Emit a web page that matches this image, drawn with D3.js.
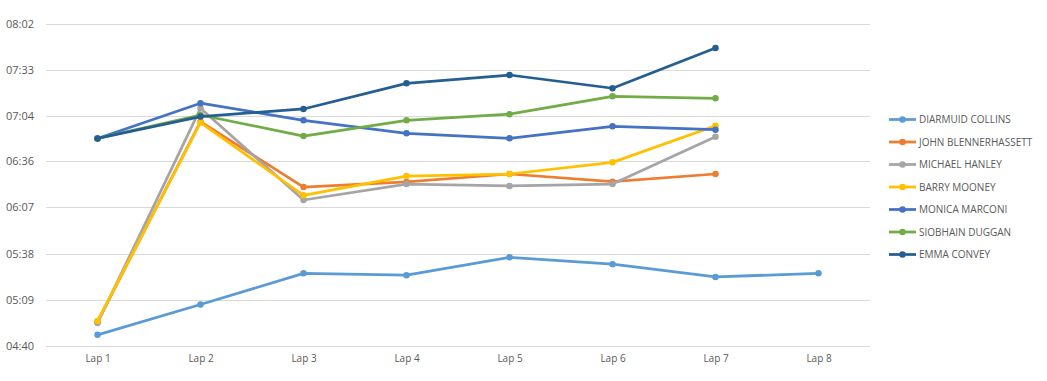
<!DOCTYPE html>
<html>
<head>
<meta charset="utf-8">
<script src="https://cdn.jsdelivr.net/npm/d3@7"></script>
<style>
  html, body { margin: 0; padding: 0; background: #fff; }
  svg { display: block; font-family: "Open Sans", "Liberation Sans", sans-serif; }
</style>
</head>
<body>
<svg id="chart" width="1047" height="381"></svg>
<script>
// Categories (laps)
const laps = ["Lap 1", "Lap 2", "Lap 3", "Lap 4", "Lap 5", "Lap 6", "Lap 7", "Lap 8"];

// Y tick labels (mm:ss)
const yTickLabels = ["04:40", "05:09", "05:38", "06:07", "06:36", "07:04", "07:33", "08:02"];

// Series names
const seriesNames = ["DIARMUID COLLINS", "JOHN BLENNERHASSETT", "MICHAEL HANLEY", "BARRY MOONEY",
                     "MONICA MARCONI", "SIOBHAIN DUGGAN", "EMMA CONVEY"];

// Series values in seconds (null = no value)
const diarmuidCollins     = [287, 306, 325.6, 324.4, 335.6, 331.3, 323.3, 325.6];
const johnBlennerhassett  = [295.1, 420.7, 379.7, 382.9, 387.9, 383.1, 387.9, null];
const michaelHanley       = [294.4, 429.1, 371.6, 381.6, 380.4, 381.6, 411.3, null];
const barryMooney         = [295.7, 420.2, 374.5, 386.6, 387.9, 395.2, 418.2, null];
const monicaMarconi       = [410.2, 432.3, 421.6, 413.4, 410.3, 417.8, 415.7, null];
const siobhainDuggan      = [410.2, 424.9, 411.7, 421.6, 425.4, 436.6, 435.4, null];
const emmaConvey          = [410.2, 423.9, 428.7, 444.8, 450, 441.7, 467, null];

const seriesValues = [diarmuidCollins, johnBlennerhassett, michaelHanley, barryMooney,
                      monicaMarconi, siobhainDuggan, emmaConvey];
const colors = ["#5B9BD5", "#ED7D31", "#A5A5A5", "#FFC000", "#4472C4", "#70AD47", "#255E91"];

function toSec(s) { const p = s.split(":"); return +p[0] * 60 + +p[1]; }

const svg = d3.select("#chart");
const plot = { left: 46, right: 870, top: 24, bottom: 346 };

const x = d3.scalePoint().domain(laps).range([plot.left, plot.right]).padding(0.5);
const yTicks = yTickLabels.map(toSec);
const y = d3.scaleLinear().domain([yTicks[0], yTicks[yTicks.length - 1]]).range([plot.bottom, plot.top]);

// Gridlines
svg.append("g").selectAll("line").data(yTicks).join("line")
  .attr("x1", plot.left).attr("x2", plot.right)
  .attr("y1", d => Math.round(y(d)) + 0.5).attr("y2", d => Math.round(y(d)) + 0.5)
  .attr("stroke", "#D9D9D9").attr("stroke-width", 1);

// Y axis labels
const yAxis = d3.axisLeft(y).tickValues(yTicks).tickFormat((d, i) => yTickLabels[i]).tickSize(0).tickPadding(12);
const yg = svg.append("g").attr("transform", `translate(${plot.left},0)`).call(yAxis);
yg.select(".domain").remove();
yg.selectAll("text").attr("fill", "#595959").style("font-size", "11px")
  .style("font-family", '"Open Sans", "Liberation Sans", sans-serif');

// X axis labels
const xAxis = d3.axisBottom(x).tickSize(0).tickPadding(9);
const xg = svg.append("g").attr("transform", `translate(0,${plot.bottom})`).call(xAxis);
xg.select(".domain").remove();
xg.selectAll("text").attr("fill", "#595959").style("font-size", "10px")
  .style("font-family", '"Open Sans", "Liberation Sans", sans-serif');

// Lines
const line = d3.line()
  .defined(d => d.v != null)
  .x(d => x(d.lap)).y(d => y(d.v));

seriesValues.forEach((vals, i) => {
  const data = vals.map((v, j) => ({ lap: laps[j], v }));
  const g = svg.append("g");
  g.append("path").datum(data)
    .attr("d", line).attr("fill", "none")
    .attr("stroke", colors[i]).attr("stroke-width", 2.75)
    .attr("stroke-linejoin", "round").attr("stroke-linecap", "round");
  g.selectAll("circle").data(data.filter(d => d.v != null)).join("circle")
    .attr("cx", d => x(d.lap)).attr("cy", d => y(d.v)).attr("r", 3.25)
    .attr("fill", colors[i]);
});

// Legend
const legendY = d3.scalePoint().domain(seriesNames).range([119.5, 254.5]);
const lg = svg.append("g");
seriesNames.forEach((name, i) => {
  const yy = legendY(name);
  lg.append("line").attr("x1", 889).attr("x2", 916).attr("y1", yy).attr("y2", yy)
    .attr("stroke", colors[i]).attr("stroke-width", 2.75);
  lg.append("circle").attr("cx", 902.5).attr("cy", yy).attr("r", 3.25).attr("fill", colors[i]);
  lg.append("text").attr("x", 919).attr("y", yy).attr("dy", "0.35em")
    .attr("fill", "#595959").style("font-size", "10px").text(name);
});
</script>
</body>
</html>
